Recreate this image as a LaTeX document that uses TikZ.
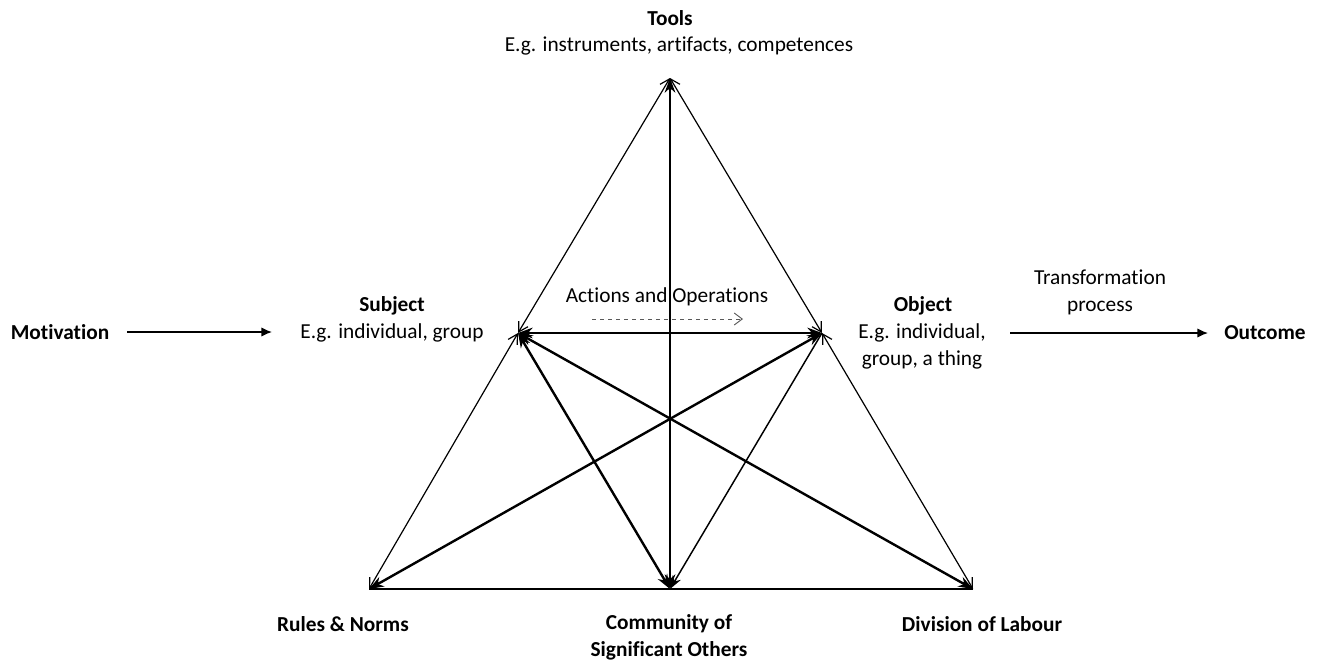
\documentclass[tikz,border=0pt]{standalone}
\usepackage{fontspec}
\setmainfont{Carlito}[Ligatures=NoCommon]
\usetikzlibrary{arrows.meta}
\begin{document}
\begin{tikzpicture}[x=0.75pt,y=-0.75pt,
  lbl/.style={font=\fontsize{16}{20.25}\selectfont, inner sep=0pt, align=center},
  blbl/.style={lbl, font=\fontsize{16}{20.25}\selectfont\bfseries},
  thin edge/.style={line width=0.9pt, {Straight Barb[length=7pt,width=8pt]}-{Straight Barb[length=7pt,width=8pt]}},
  thick edge/.style={line width=1.8pt, {Stealth[length=11pt,width=8pt]}-{Stealth[length=11pt,width=8pt]}},
  thin one/.style={line width=1.1pt, -{Stealth[length=10pt,width=7pt]}},
  flow/.style={line width=1pt, -{Latex[length=8pt,width=7pt]}}]
\useasboundingbox (0,0) rectangle (1318,665);

% vertices of the activity triangle
\coordinate (T) at (670,78);
\coordinate (S) at (518,333);
\coordinate (O) at (822,333);
\coordinate (R) at (369,589);
\coordinate (C) at (670,589);
\coordinate (D) at (973,589);

% outer triangle
\draw[thin edge] (T) -- (S);
\draw[thin edge] (S) -- (R);
\draw[thin edge] (T) -- (O);
\draw[thin edge] (O) -- (D);
\draw[line width=0.9pt] (R) -- (D);

% inner connections
\draw[thick edge] (T) -- (C);
\draw[thick edge] (S) -- (O);
\draw[thick edge] (S) -- (C);
\draw[thick edge] (S) -- (D);
\draw[thick edge] (O) -- (R);
\draw[thin one] (O) -- (C);

% labels
\node[blbl] (tools) at (670,18) {Tools};
\node[lbl] (toolsd) at (679,46) {E.g. instruments, artifacts, competences};
\node[blbl] (subj) at (392,306) {Subject};
\node[lbl] (subjd) at (392,333) {E.g. individual, group};
\node[blbl] (obj) at (923,306) {Object};
\node[lbl] (objd) at (922,346.5) {E.g. individual,\\group, a thing};
\node[blbl] (mot) at (60,332) {Motivation};
\node[lbl] (trans) at (1100,292.5) {Transformation\\process};
\node[blbl] (out) at (1265,333) {Outcome};
\node[lbl] (act) at (667,297) {Actions and Operations};
\node[blbl] (rules) at (343,624) {Rules \& Norms};
\node[blbl] (comm) at (669,637.5) {Community of\\Significant Others};
\node[blbl] (div) at (982,624) {Division of Labour};

% flow arrows
\coordinate (m1) at (127,332);
\coordinate (m2) at (272,332);
\draw[flow] (m1) -- (m2);
\coordinate (o1) at (1010,333);
\coordinate (o2) at (1208,333);
\draw[flow] (o1) -- (o2);
\coordinate (a1) at (592,319);
\coordinate (a2) at (743,319);
\draw[gray!70!black, dashed, line width=0.7pt, -{Straight Barb[length=6pt,width=9pt]}] (a1) -- (a2);
\end{tikzpicture}
\end{document}
